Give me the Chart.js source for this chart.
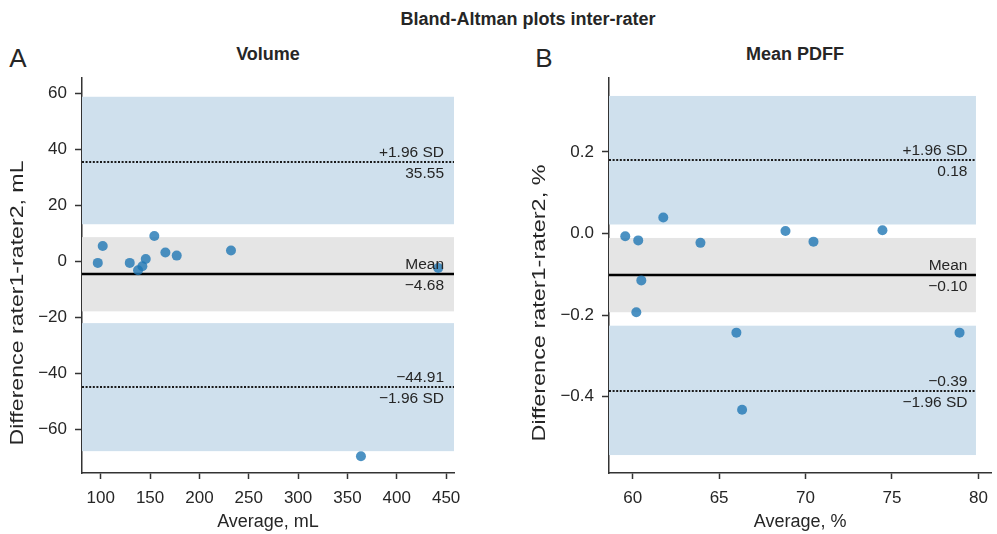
<!DOCTYPE html>
<html>
<head>
<meta charset="utf-8">
<script src="https://cdn.jsdelivr.net/npm/chart.js@4.4.1/dist/chart.umd.min.js"></script>
<style>
  body { margin: 0; background: #fff; width: 997px; height: 534px; position: relative; overflow: hidden;
         font-family: "Liberation Sans", Arial, sans-serif; color: #262626; }
  .box { position: absolute; top: 0; height: 534px; }
  .txt { position: absolute; white-space: nowrap; transform: translate(-50%, -50%); line-height: 1; }
</style>
</head>
<body>
<div class="txt" style="left:528px;top:19px;font-weight:bold;font-size:18px">Bland-Altman plots inter-rater</div>
<div class="txt" style="left:18px;top:58px;font-size:26px">A</div>
<div class="txt" style="left:544px;top:58px;font-size:26px">B</div>
<div class="txt" style="left:268px;top:54px;font-weight:bold;font-size:18px">Volume</div>
<div class="txt" style="left:795px;top:54px;font-weight:bold;font-size:18px">Mean PDFF</div>

<div class="box" style="left:0;width:470px"><canvas id="volChart" width="470" height="534"></canvas></div>
<div class="box" style="left:500px;width:497px"><canvas id="pdffChart" width="497" height="534"></canvas></div>

<script>
// Volume (mL): average vs difference of the two raters
const volAvg  = [97, 102, 129.4, 137.8, 142.2, 145.6, 154.3, 165.5, 177, 232, 363.7, 442];
const volDiff = [-0.6, 5.4, -0.6, -3.2, -1.8, 0.8, 9.0, 3.1, 2.0, 3.8, -69.6, -2.4];
// upper limit, mean, lower limit
const volLimits = [35.55, -4.68, -44.91];
// confidence intervals of upper limit, mean, lower limit
const volCI = [[13.2, 58.7], [-17.9, 8.6], [-67.8, -22.1]];
const volXRange = [81, 458];
const volYRange = [-75.6, 65.4];
const volXTicks = [100, 150, 200, 250, 300, 350, 400, 450];
const volYTicks = [-60, -40, -20, 0, 20, 40, 60];

// Mean PDFF (%)
const pdffAvg  = [59.57, 60.32, 61.77, 63.92, 60.5, 60.21, 68.84, 70.46, 74.45, 66.0, 78.91, 66.33];
const pdffDiff = [-0.007, -0.017, 0.039, -0.023, -0.115, -0.193, 0.006, -0.020, 0.008, -0.243, -0.243, -0.432];
const pdffLimits = [0.179, -0.102, -0.386];
const pdffCI = [[0.022, 0.337], [-0.193, -0.011], [-0.543, -0.226]];
const pdffXRange = [58.63, 80.75];
const pdffBandEnd = 79.86;
const pdffYRange = [-0.587, 0.381];
const pdffXTicks = [60, 65, 70, 75, 80];
const pdffYTicks = [-0.4, -0.2, 0.0, 0.2];

Chart.defaults.font.family = '"Liberation Sans", Arial, sans-serif';
Chart.defaults.color = '#262626';

const minus = s => s.replace('-', '\u2212');

// draws the agreement bands, the mean / limit lines, their labels and the rotated y title
const baPlot = {
  id: 'baPlot',
  beforeDatasetsDraw(chart, args, opts) {
    const { ctx, chartArea: a, scales: { x, y } } = chart;
    const x0 = a.left;
    const x1 = opts.bandEnd != null ? x.getPixelForValue(opts.bandEnd) : a.right;
    ctx.save();
    opts.ci.forEach((b, i) => {
      const top = y.getPixelForValue(b[1]);
      const bot = y.getPixelForValue(b[0]);
      ctx.fillStyle = i === 1 ? '#e5e5e5' : '#cfe0ed';
      ctx.fillRect(x0, top, x1 - x0, bot - top);
    });
    opts.limits.forEach((v, i) => {
      const py = Math.round(y.getPixelForValue(v));
      ctx.beginPath();
      if (i === 1) {
        ctx.setLineDash([]);
        ctx.lineWidth = 2.5;
        ctx.strokeStyle = '#000';
      } else {
        ctx.setLineDash([2, 1.6]);
        ctx.lineWidth = 2;
        ctx.strokeStyle = '#1a1a1a';
      }
      ctx.moveTo(x0, py);
      ctx.lineTo(x1, py);
      ctx.stroke();
    });
    ctx.restore();
  },
  afterDatasetsDraw(chart, args, opts) {
    const { ctx, chartArea: a, scales: { x, y } } = chart;
    const x1 = opts.bandEnd != null ? x.getPixelForValue(opts.bandEnd) : a.right;
    const lx = x1 - opts.labelInset;
    const val = v => minus(v.toFixed(2));
    const text = [
      ['+1.96 SD', val(opts.limits[0])],
      ['Mean', val(opts.limits[1])],
      [val(opts.limits[2]), '\u22121.96 SD']
    ];
    ctx.save();
    ctx.font = '15.5px "Liberation Sans", Arial, sans-serif';
    ctx.fillStyle = '#262626';
    ctx.textAlign = 'right';
    ctx.textBaseline = 'alphabetic';
    opts.limits.forEach((v, i) => {
      const py = y.getPixelForValue(v);
      ctx.fillText(text[i][0], lx, py - 5);
      ctx.fillText(text[i][1], lx, py + 16);
    });
    ctx.restore();
  },
  afterDraw(chart, args, opts) {
    const { ctx } = chart;
    ctx.save();
    ctx.font = '18px "Liberation Sans", Arial, sans-serif';
    ctx.fillStyle = '#262626';
    ctx.translate(opts.titleX, opts.titleY);
    ctx.rotate(-Math.PI / 2);
    const w = ctx.measureText(opts.title).width;
    ctx.scale(opts.titleLen / w, 1);
    ctx.textAlign = 'center';
    ctx.textBaseline = 'alphabetic';
    ctx.fillText(opts.title, 0, 0);
    ctx.restore();
  }
};

function makeChart(id, cfg) {
  const axisLine = { display: true, color: '#333', width: 1.5 };
  const grid = { display: true, drawOnChartArea: false, drawTicks: true, tickLength: 7, tickWidth: 1.5, tickColor: '#333' };
  return new Chart(document.getElementById(id), {
    type: 'scatter',
    data: {
      datasets: [{
        data: cfg.avg.map((v, i) => ({ x: v, y: cfg.diff[i] })),
        backgroundColor: 'rgba(31,119,180,0.8)',
        borderWidth: 0,
        pointRadius: 5,
        pointHoverRadius: 5
      }]
    },
    options: {
      responsive: false,
      animation: false,
      layout: { padding: { top: 78, right: cfg.padRight, bottom: 0, left: 0 } },
      plugins: {
        legend: { display: false },
        tooltip: { enabled: false },
        baPlot: {
          limits: cfg.limits, ci: cfg.ci, bandEnd: cfg.bandEnd, labelInset: cfg.labelInset,
          title: cfg.yTitle, titleX: cfg.yTitleX, titleY: 303, titleLen: cfg.yTitleLen
        }
      },
      scales: {
        x: {
          type: 'linear', position: 'bottom',
          min: cfg.xRange[0], max: cfg.xRange[1],
          afterBuildTicks: s => { s.ticks = cfg.xTicks.map(v => ({ value: v })); },
          afterFit: s => { s.height = 61; },
          grid: Object.assign({}, grid, { tickLength: 6 }),
          border: axisLine,
          ticks: { autoSkip: false, maxRotation: 0, padding: 9, font: { size: 17 }, callback: v => minus(cfg.xFmt(v)) },
          title: { display: true, text: cfg.xTitle, font: { size: 18 }, padding: { top: 0, bottom: 1 } }
        },
        y: {
          type: 'linear', position: 'left',
          min: cfg.yRange[0], max: cfg.yRange[1],
          afterBuildTicks: s => { s.ticks = cfg.yTicks.map(v => ({ value: v })); },
          afterFit: s => { s.width = cfg.yWidth; },
          grid: grid,
          border: axisLine,
          ticks: { autoSkip: false, padding: 8, font: { size: 17 }, callback: v => minus(cfg.yFmt(v)) }
        }
      }
    },
    plugins: [baPlot]
  });
}

makeChart('volChart', {
  avg: volAvg, diff: volDiff, limits: volLimits, ci: volCI, bandEnd: null, labelInset: 10,
  xRange: volXRange, yRange: volYRange, xTicks: volXTicks, yTicks: volYTicks,
  xFmt: v => String(v), yFmt: v => String(v),
  xTitle: 'Average, mL', yTitle: 'Difference rater1-rater2, mL',
  yTitleX: 23, yTitleLen: 285, yWidth: 82, padRight: 16
});

makeChart('pdffChart', {
  avg: pdffAvg, diff: pdffDiff, limits: pdffLimits, ci: pdffCI, bandEnd: pdffBandEnd, labelInset: 8.5,
  xRange: pdffXRange, yRange: pdffYRange, xTicks: pdffXTicks, yTicks: pdffYTicks,
  xFmt: v => String(v), yFmt: v => v.toFixed(1),
  xTitle: 'Average, %', yTitle: 'Difference rater1-rater2, %',
  yTitleX: 45, yTitleLen: 277, yWidth: 109, padRight: 1
});
</script>
</body>
</html>
